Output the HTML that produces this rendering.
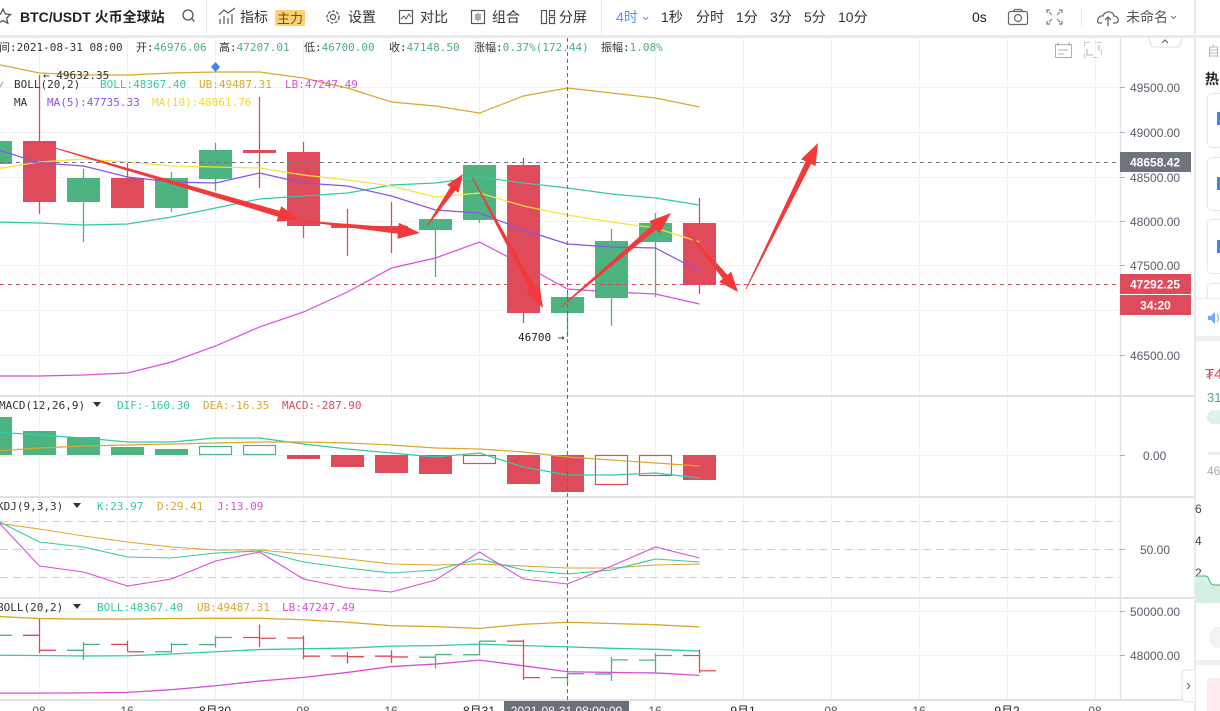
<!DOCTYPE html>
<html><head><meta charset="utf-8"><style>
html,body{margin:0;padding:0;background:#fff;width:1220px;height:711px;overflow:hidden}
svg{display:block}
.tb{font-family:"Liberation Sans","Noto Sans CJK SC",sans-serif;font-size:14px;fill:#333}
.mono{font-family:"DejaVu Sans Mono","Liberation Mono","Noto Sans CJK SC",monospace;font-size:11px}
.ax{font-family:"Liberation Sans",sans-serif;font-size:12px;fill:#555e6b}
</style></head><body>
<svg width="1220" height="711" viewBox="0 0 1220 711" xmlns="http://www.w3.org/2000/svg">
<defs>
<clipPath id="cm"><rect x="0" y="38" width="1120" height="357"/></clipPath>
<clipPath id="cmacd"><rect x="0" y="397" width="1120" height="99"/></clipPath>
<clipPath id="ckdj"><rect x="0" y="498" width="1120" height="99"/></clipPath>
<clipPath id="cboll"><rect x="0" y="599" width="1120" height="100"/></clipPath>
</defs>
<rect width="1220" height="711" fill="#fff"/>

<!-- ===== TOOLBAR ===== -->
<polygon points="3,9 5.3,14 10.5,14.5 6.6,18 7.8,23.2 3,20.5 -1.8,23.2 -0.6,18 -4.5,14.5 0.7,14" fill="none" stroke="#555" stroke-width="1.3"/>
<text x="20" y="22" class="tb" style="font-weight:bold;fill:#222">BTC/USDT 火币全球站</text>
<circle cx="188" cy="15" r="5" fill="none" stroke="#555" stroke-width="1.3"/>
<line x1="191.5" y1="18.5" x2="194.5" y2="21.5" stroke="#555" stroke-width="1.3"/>
<line x1="206.5" y1="0" x2="206.5" y2="36" stroke="#e8eaed"/>
<path d="M220 24V19M224 24V16M228 24V18M232 24V14M219 15L224 10L228 13L235 8" fill="none" stroke="#555" stroke-width="1.2"/>
<text x="240" y="22" class="tb">指标</text>
<rect x="275" y="10" width="30" height="16" fill="#fcd173" rx="1"/>
<text x="277" y="23" class="tb" style="font-size:13px;fill:#7a4d00">主力</text>
<circle cx="333" cy="17" r="6" fill="none" stroke="#555" stroke-width="1.3" stroke-dasharray="3 1.5"/>
<circle cx="333" cy="17" r="2.5" fill="none" stroke="#555" stroke-width="1.2"/>
<text x="348" y="22" class="tb">设置</text>
<rect x="399.5" y="10.5" width="13" height="13" fill="none" stroke="#555" stroke-width="1.2"/>
<path d="M401 19L404 16L406 19L409 14L411 17" fill="none" stroke="#555" stroke-width="1"/>
<text x="420" y="22" class="tb">对比</text>
<rect x="471.5" y="10.5" width="13" height="13" fill="none" stroke="#555" stroke-width="1.2"/>
<path d="M476 14V20M478 13V21M480 14V20" stroke="#555" stroke-width="1"/>
<text x="492" y="22" class="tb">组合</text>
<rect x="541.5" y="10.5" width="5" height="13" fill="none" stroke="#555" stroke-width="1.2"/>
<rect x="549.5" y="10.5" width="5" height="5" fill="none" stroke="#555" stroke-width="1.2"/>
<rect x="549.5" y="17.5" width="5" height="6" fill="none" stroke="#555" stroke-width="1.2"/>
<text x="559" y="22" class="tb">分屏</text>
<line x1="601.5" y1="0" x2="601.5" y2="36" stroke="#e8eaed"/>
<text x="616" y="22" class="tb" style="fill:#5b8ff9">4时</text>
<path d="M643 17L645.5 19.5L648 17" fill="none" stroke="#5b8ff9" stroke-width="1"/>
<text x="661" y="22" class="tb">1秒</text>
<text x="696" y="22" class="tb">分时</text>
<text x="736" y="22" class="tb">1分</text>
<text x="770" y="22" class="tb">3分</text>
<text x="804" y="22" class="tb">5分</text>
<text x="838" y="22" class="tb">10分</text>
<text x="972" y="22" class="tb" style="fill:#222">0s</text>
<rect x="1008.5" y="11.5" width="19" height="13" rx="2" fill="none" stroke="#666" stroke-width="1.2"/>
<path d="M1013 11.5L1015 9.5H1021L1023 11.5" fill="none" stroke="#666" stroke-width="1.2"/>
<circle cx="1018" cy="18" r="3.5" fill="none" stroke="#666" stroke-width="1.2"/>
<path d="M1047 13V10H1050M1059 10H1062V13M1062 21V24H1059M1050 24H1047V21" fill="none" stroke="#777" stroke-width="1.2"/>
<path d="M1049 12L1052 15M1060 12L1057 15M1060 22L1057 19M1049 22L1052 19" stroke="#777" stroke-width="1"/>
<line x1="1081.5" y1="7" x2="1081.5" y2="26" stroke="#e8eaed"/>
<path d="M1102 23H1099C1096 23 1098 15 1103 16C1104 11 1113 10 1114 16C1119 16 1120 23 1115 23H1113" fill="none" stroke="#666" stroke-width="1.3"/>
<path d="M1108 26V17M1105 20L1108 17L1111 20" fill="none" stroke="#666" stroke-width="1.3"/>
<text x="1126" y="22" class="tb" style="fill:#555">未命名</text>
<path d="M1171 16L1173.5 18.5L1176 16" fill="none" stroke="#777" stroke-width="1"/>
<rect x="0" y="35" width="1220" height="3" fill="#e8eaee"/>

<!-- right panel separator -->
<rect x="1194" y="0" width="2" height="711" fill="#e8eaed"/>

<!-- ===== GRID ===== -->
<g stroke="#eef2f5" stroke-width="1">
<path d="M39.5 38V699M127.5 38V699M215.5 38V699M303.5 38V699M391.5 38V699M479.5 38V699M655.5 38V699M743.5 38V699M831.5 38V699M919.5 38V699M1007.5 38V699M1095.5 38V699"/>
<path d="M0 87.5H1120M0 132.5H1120M0 177.5H1120M0 221.5H1120M0 265.5H1120M0 310.5H1120M0 355.5H1120"/>
<path d="M0 455.5H1120M0 611.5H1120M0 655.5H1120"/>
</g>
<g stroke="#cfcfcf" stroke-dasharray="8 5">
<path d="M0 521.5H1120M0 549.5H1120M0 577.5H1120"/>
</g>
<!-- separators -->
<g stroke="#dfe2e6" stroke-width="2">
<path d="M0 396H1194M0 497H1194M0 598H1194M0 700H1194"/>
</g>
<line x1="1120.5" y1="38" x2="1120.5" y2="700" stroke="#dfe2e6" stroke-width="1.5"/>

<!-- top-right chart icons -->
<rect x="1055.5" y="44.5" width="16" height="13" fill="none" stroke="#aab0b8"/>
<path d="M1058 42V46M1069 42V46M1058 50H1068M1058 54H1064" stroke="#aab0b8"/>
<rect x="1084.5" y="42.5" width="17" height="15" fill="none" stroke="#c8ccd2" stroke-dasharray="5 7"/>
<path d="M1087 49V55H1093M1099 45V51" fill="none" stroke="#aab0b8"/>
<path d="M1149 38L1151 45Q1152 47 1155 47H1176Q1179 47 1180 45L1182 38" fill="#fff" stroke="#d8dce2"/>
<path d="M1162 43L1165 40L1168 43" fill="none" stroke="#555" stroke-width="1"/>

<!-- ===== INFO LINE ===== -->
<g class="mono">
<text x="-1" y="51" fill="#333">间:2021-08-31 08:00</text>
<text x="136" y="51" fill="#333">开:<tspan fill="#4caf7d">46976.06</tspan></text>
<text x="219" y="51" fill="#333">高:<tspan fill="#4caf7d">47207.01</tspan></text>
<text x="304" y="51" fill="#333">低:<tspan fill="#4caf7d">46700.00</tspan></text>
<text x="389" y="51" fill="#333">收:<tspan fill="#4caf7d">47148.50</tspan></text>
<text x="474" y="51" fill="#333">涨幅:<tspan fill="#4caf7d">0.37%(172.44)</tspan></text>
<text x="601" y="51" fill="#333">振幅:<tspan fill="#4caf7d">1.08%</tspan></text>
</g>

<!-- ===== MAIN CHART ===== -->
<g clip-path="url(#cm)">
<g fill="none" stroke-width="1.2">
<polyline stroke="#d8a92d" points="-4.5,64 39.5,73 83.5,75 127.5,75 171.5,73 215.5,72 259.5,72 303.5,78 347.5,88 391.5,102 435.5,106 479.5,113 523.5,96 567.5,88 611.5,93 655.5,98 699.5,107"/>
<polyline stroke="#d84fd8" points="-4.5,376 39.5,376 83.5,375 127.5,373 171.5,362 215.5,346 259.5,327 303.5,312 347.5,292 391.5,268 435.5,258 479.5,242 523.5,265 567.5,289 611.5,292 655.5,294 699.5,304"/>
</g>
<!-- wicks -->
<g stroke-width="1.3">
<path stroke="#4db380" d="M-4.5 135V170M83.5 169V242M171.5 172V212M215.5 143V191M435.5 219V277M479.5 165V223M567.5 293V337M611.5 229V326M655.5 213V297"/>
<path stroke="#e04b5b" d="M39.5 75V214M127.5 163V208M259.5 97V188M303.5 142V238M347.5 209V256M391.5 202V253M523.5 158V323M699.5 198V294"/>
</g>
<g fill="#4db380">
<rect x="-21" y="141" width="33" height="23"/>
<rect x="67" y="178" width="33" height="24"/>
<rect x="155" y="178" width="33" height="30"/>
<rect x="199" y="150" width="33" height="29"/>
<rect x="419" y="219" width="33" height="11"/>
<rect x="463" y="165" width="33" height="55"/>
<rect x="551" y="297" width="33" height="16"/>
<rect x="595" y="241" width="33" height="57"/>
<rect x="639" y="223" width="33" height="19"/>
</g>
<g fill="#e04b5b">
<rect x="23" y="141" width="33" height="61"/>
<rect x="111" y="178" width="33" height="30"/>
<rect x="243" y="150" width="33" height="3"/>
<rect x="287" y="152" width="33" height="74"/>
<rect x="331" y="225" width="33" height="3"/>
<rect x="375" y="226" width="33" height="3"/>
<rect x="507" y="165" width="33" height="148"/>
<rect x="683" y="223" width="33" height="62"/>
</g>
<g fill="none" stroke-width="1.2">
<polyline stroke="#35c9a6" points="-4.5,222 39.5,223 83.5,225 127.5,224 171.5,217 215.5,208 259.5,199 303.5,196 347.5,193 391.5,185 435.5,183 479.5,177 523.5,183 567.5,188 611.5,194 655.5,198 699.5,205"/>
<polyline stroke="#f7e23c" points="-4.5,169 39.5,162 83.5,159 127.5,162 171.5,166 215.5,167 259.5,168 303.5,175 347.5,180 391.5,186 435.5,197 479.5,193 523.5,206 567.5,215 611.5,222 655.5,228 699.5,242"/>
<polyline stroke="#8c52e3" points="-4.5,149 39.5,163 83.5,166 127.5,177 171.5,182 215.5,183 259.5,173 303.5,183 347.5,186 391.5,196 435.5,210 479.5,213 523.5,230 567.5,244 611.5,247 655.5,248 699.5,271"/>
</g>
<!-- dashed price lines -->
<line x1="0" y1="162.5" x2="1120" y2="162.5" stroke="#6b7785" stroke-dasharray="4 4"/>
<line x1="0" y1="284.5" x2="1120" y2="284.5" stroke="#e04b5b" stroke-dasharray="4 4"/>
<!-- red annotation arrows -->
<g fill="#f23a3a">
<polygon points="54.9,148.5 278.0,216.7 276.6,221.5 300,220 281.2,206.1 279.8,210.9 55.1,147.5"/>
<polygon points="302.9,221.5 397.8,233.8 397.3,238.8 420,233 398.9,222.8 398.4,227.8 303.1,220.5"/>
<polygon points="427.4,226.3 455.3,190.5 458.5,192.8 463,174 447.0,184.8 450.3,187.1 426.6,225.7"/>
<polygon points="471.6,177.2 529.9,290.1 525.5,292.5 543,308 539.5,284.9 535.1,287.3 472.4,176.8"/>
<polygon points="561.3,307.4 656.2,229.6 659.5,233.4 671,213 649.1,221.2 652.4,225.0 560.7,306.6"/>
<polygon points="683.6,228.3 722.8,278.6 719.0,281.9 738,292 731.2,271.5 727.4,274.8 684.4,227.7"/>
<polygon points="746.4,289.2 811.0,164.0 815.5,166.2 818,143 801.1,159.2 805.6,161.4 745.6,288.8"/>
</g>
</g>
<!-- main legend & annotations -->
<line x1="0" y1="87" x2="3" y2="82" stroke="#999"/>
<g class="mono">
<text x="14" y="88" fill="#333">BOLL(20,2)</text>
<text x="100" y="88" fill="#35c9a6">BOLL:48367.40</text>
<text x="199" y="88" fill="#d8a92d">UB:49487.31</text>
<text x="285" y="88" fill="#d84fd8">LB:47247.49</text>
<text x="14" y="106" fill="#333">MA</text>
<text x="47" y="106" fill="#8c52e3">MA(5):47735.33</text>
<text x="152" y="106" fill="#f2d92a">MA(10):48061.76</text>
<text x="43" y="79" fill="#333">← 49632.35</text>
<text x="518" y="341" fill="#222">46700 →</text>
</g>
<polygon points="215.5,62 220,67 215.5,72 211,67" fill="#3d86f0"/>

<!-- ===== MACD ===== -->
<g clip-path="url(#cmacd)">
<g fill="#4db380">
<rect x="-21" y="417" width="33" height="38"/>
<rect x="23" y="431" width="33" height="24"/>
<rect x="67" y="437" width="33" height="18"/>
<rect x="111" y="447" width="33" height="8"/>
<rect x="155" y="449" width="33" height="6"/>
</g>
<g fill="none" stroke="#4db380" stroke-width="1.2">
<rect x="199.5" y="446.5" width="32" height="8"/>
<rect x="243.5" y="445.5" width="32" height="9"/>
</g>
<g fill="#e04b5b">
<rect x="287" y="455" width="33" height="4"/>
<rect x="331" y="455" width="33" height="12"/>
<rect x="375" y="455" width="33" height="18"/>
<rect x="419" y="455" width="33" height="19"/>
<rect x="507" y="455" width="33" height="29"/>
<rect x="551" y="455" width="33" height="37"/>
<rect x="683" y="455" width="33" height="25"/>
</g>
<g fill="none" stroke="#e04b5b" stroke-width="1.2">
<rect x="463.5" y="455.5" width="32" height="8"/>
<rect x="595.5" y="455.5" width="32" height="29"/>
<rect x="639.5" y="455.5" width="32" height="20"/>
</g>
<g fill="none" stroke-width="1.2">
<polyline stroke="#35c9a6" points="-4.5,432 39.5,435 83.5,438 127.5,442 171.5,442 215.5,438 259.5,438 303.5,444 347.5,449 391.5,453 435.5,457 479.5,453 523.5,467 567.5,475 611.5,475 655.5,473 699.5,478"/>
<polyline stroke="#d8a92d" points="-4.5,451 39.5,448 83.5,446 127.5,445 171.5,444 215.5,443 259.5,442 303.5,442 347.5,443 391.5,445 435.5,448 479.5,449 523.5,452 567.5,457 611.5,460 655.5,463 699.5,466"/>
</g>
</g>
<g class="mono">
<text x="-1" y="409" fill="#333">MACD(12,26,9)</text>
<text x="117" y="409" fill="#35c9a6">DIF:-160.30</text>
<text x="203" y="409" fill="#d8a92d">DEA:-16.35</text>
<text x="282" y="409" fill="#e04b5b">MACD:-287.90</text>
<text x="-3" y="510" fill="#333">KDJ(9,3,3)</text>
<text x="97" y="510" fill="#35c9a6">K:23.97</text>
<text x="157" y="510" fill="#d8a92d">D:29.41</text>
<text x="217" y="510" fill="#d84fd8">J:13.09</text>
<text x="-3" y="611" fill="#333">BOLL(20,2)</text>
<text x="97" y="611" fill="#35c9a6">BOLL:48367.40</text>
<text x="197" y="611" fill="#d8a92d">UB:49487.31</text>
<text x="282" y="611" fill="#d84fd8">LB:47247.49</text>
</g>
<path d="M93 402H101L97 407Z M73 503H81L77 508Z M73 604H81L77 609Z" fill="#333"/>

<!-- ===== KDJ ===== -->
<g clip-path="url(#ckdj)" fill="none" stroke-width="1.1">
<polyline stroke="#d8a92d" points="-4.5,523 39.5,529 83.5,536 127.5,542 171.5,547 215.5,550 259.5,550 303.5,554 347.5,559 391.5,564 435.5,565 479.5,564 523.5,566 567.5,568 611.5,568 655.5,565 699.5,564"/>
<polyline stroke="#35c9a6" points="-4.5,520 39.5,542 83.5,547 127.5,557 171.5,558 215.5,553 259.5,551 303.5,562 347.5,568 391.5,573 435.5,570 479.5,559 523.5,570 567.5,574 611.5,570 655.5,559 699.5,562"/>
<polyline stroke="#d84fd8" points="-4.5,519 39.5,566 83.5,572 127.5,586 171.5,579 215.5,561 259.5,552 303.5,579 347.5,588 391.5,592 435.5,580 479.5,552 523.5,579 567.5,584 611.5,566 655.5,547 699.5,558"/>
</g>

<!-- ===== BOLL (lower) ===== -->
<g clip-path="url(#cboll)">
<g transform="translate(0,600.59) scale(1,0.2461)" fill="none">
<polyline vector-effect="non-scaling-stroke" stroke-width="1.3" stroke="#d8a92d" points="-4.5,64 39.5,73 83.5,75 127.5,75 171.5,73 215.5,72 259.5,72 303.5,78 347.5,88 391.5,102 435.5,106 479.5,113 523.5,96 567.5,88 611.5,93 655.5,98 699.5,107"/>
<polyline vector-effect="non-scaling-stroke" stroke-width="1.3" stroke="#35c9a6" points="-4.5,222 39.5,223 83.5,225 127.5,224 171.5,217 215.5,208 259.5,199 303.5,196 347.5,193 391.5,185 435.5,183 479.5,177 523.5,183 567.5,188 611.5,194 655.5,198 699.5,205"/>
<polyline vector-effect="non-scaling-stroke" stroke-width="1.3" stroke="#d84fd8" points="-4.5,376 39.5,376 83.5,375 127.5,373 171.5,362 215.5,346 259.5,327 303.5,312 347.5,292 391.5,268 435.5,258 479.5,242 523.5,265 567.5,289 611.5,292 655.5,294 699.5,304"/>
<path vector-effect="non-scaling-stroke" stroke-width="1.3" stroke="#4db380" d="M-21 164H-4.5M-4.5 135V170M-4.5 141H12 M67 202H83.5M83.5 169V242M83.5 178H100 M155 208H171.5M171.5 172V212M171.5 178H188 M199 179H215.5M215.5 143V191M215.5 150H232 M419 230H435.5M435.5 219V277M435.5 219H452 M463 220H479.5M479.5 165V223M479.5 165H496 M551 313H567.5M567.5 293V337M567.5 297H584 M595 298H611.5M611.5 229V326M611.5 241H628 M639 242H655.5M655.5 213V297M655.5 223H672"/>
<path vector-effect="non-scaling-stroke" stroke-width="1.3" stroke="#e04b5b" d="M23 141H39.5M39.5 75V214M39.5 202H56 M111 178H127.5M127.5 163V208M127.5 208H144 M243 150H259.5M259.5 97V188M259.5 153H276 M287 152H303.5M303.5 142V238M303.5 226H320 M331 225H347.5M347.5 209V256M347.5 228H364 M375 226H391.5M391.5 202V253M391.5 229H408 M507 165H523.5M523.5 158V323M523.5 313H540 M683 223H699.5M699.5 198V294M699.5 285H716"/>
</g>
</g>

<!-- crosshair -->
<line x1="567.5" y1="38" x2="567.5" y2="700" stroke="#5f6f80" stroke-dasharray="4 3"/>

<!-- ===== AXIS LABELS ===== -->
<g stroke="#aab0b8">
<path d="M1120 87.5H1125M1120 132.5H1125M1120 177.5H1125M1120 221.5H1125M1120 265.5H1125M1120 355.5H1125M1120 455.5H1125M1120 549.5H1125M1120 611.5H1125M1120 655.5H1125"/>
</g>
<g class="ax">
<text x="1130" y="92">49500.00</text>
<text x="1130" y="137">49000.00</text>
<text x="1130" y="182">48500.00</text>
<text x="1130" y="226">48000.00</text>
<text x="1130" y="270">47500.00</text>
<text x="1130" y="360">46500.00</text>
<text x="1143" y="460">0.00</text>
<text x="1140" y="554">50.00</text>
<text x="1130" y="616">50000.00</text>
<text x="1130" y="660">48000.00</text>
</g>
<rect x="1120" y="152" width="71" height="20" fill="#6e737d"/>
<text x="1130" y="166.5" style="font-family:'Liberation Sans',sans-serif;font-size:12px;font-weight:bold" fill="#fff">48658.42</text>
<rect x="1120" y="274" width="71" height="20" fill="#e04b5b"/>
<text x="1130" y="288.5" style="font-family:'Liberation Sans',sans-serif;font-size:12px;font-weight:bold" fill="#fff">47292.25</text>
<rect x="1120" y="295" width="71" height="20" fill="#e04b5b"/>
<text x="1155.5" y="309.5" text-anchor="middle" style="font-family:'Liberation Sans',sans-serif;font-size:12px;font-weight:bold" fill="#fff">34:20</text>

<!-- x-axis labels -->
<g class="ax" text-anchor="middle" style="fill:#555">
<text x="39" y="715">08</text>
<text x="127" y="715">16</text>
<text x="215" y="715" style="fill:#222">8月30</text>
<text x="303" y="715">08</text>
<text x="391" y="715">16</text>
<text x="479" y="715" style="fill:#222">8月31</text>
<text x="655" y="715">16</text>
<text x="743" y="715" style="fill:#222">9月1</text>
<text x="831" y="715">08</text>
<text x="919" y="715">16</text>
<text x="1007" y="715" style="fill:#222">9月2</text>
<text x="1095" y="715">08</text>
</g>
<rect x="504" y="701" width="125" height="12" fill="#6b6f78"/>
<text x="566.5" y="715" text-anchor="middle" class="ax" style="fill:#fff">2021-08-31 08:00:00</text>

<!-- collapse tab -->
<path d="M1195 670H1187Q1182 670 1182 675V697Q1182 702 1187 702H1195" fill="#fff" stroke="#dfe2e6"/>
<path d="M1187 683L1190 686L1187 689" fill="none" stroke="#666"/>

<!-- ===== RIGHT PANEL (partial) ===== -->
<g>
<text x="1207" y="56" style="font-family:'Noto Sans CJK SC',sans-serif;font-size:13px" fill="#b0b4ba">自</text>
<text x="1205" y="84" style="font-family:'Noto Sans CJK SC',sans-serif;font-size:14px;font-weight:bold" fill="#222">热</text>
<g fill="none" stroke="#e6e8eb">
<rect x="1207.5" y="93.5" width="30" height="54" rx="4"/>
<rect x="1207.5" y="157.5" width="30" height="53" rx="4"/>
<rect x="1207.5" y="219.5" width="30" height="54" rx="4"/>
<rect x="1207.5" y="283.5" width="30" height="30" rx="4"/>
</g>
<rect x="1217" y="112" width="3" height="13" fill="#3d86f0"/>
<rect x="1217" y="177" width="3" height="13" fill="#3d86f0"/>
<rect x="1217" y="240" width="3" height="13" fill="#3d86f0"/>
<rect x="1196" y="298" width="24" height="40" fill="#fff"/>
<line x1="1196" y1="298.5" x2="1220" y2="298.5" stroke="#eceef1"/>
<path d="M1208 316H1211L1215 312V324L1211 320H1208Z" fill="#6fa8f5"/>
<path d="M1217 314Q1220 318 1217 322" fill="none" stroke="#6fa8f5"/>
<rect x="1196" y="336" width="24" height="5" fill="#eef0f4"/>
<text x="1205" y="379" style="font-family:'Liberation Sans',sans-serif;font-size:15px" fill="#e04b5b">₮4</text>
<text x="1207" y="402" style="font-family:'Liberation Sans',sans-serif;font-size:13px" fill="#4caf7d">31</text>
<rect x="1207" y="410" width="20" height="14" rx="7" fill="#dff2e8"/>
<line x1="1208" y1="453.5" x2="1220" y2="453.5" stroke="#e3e5e8" stroke-width="2"/>
<text x="1207" y="475" style="font-family:'Liberation Sans',sans-serif;font-size:12px" fill="#aaa">46</text>
<text x="1195" y="513" style="font-family:'Liberation Sans',sans-serif;font-size:12px" fill="#444">6</text>
<text x="1195" y="545" style="font-family:'Liberation Sans',sans-serif;font-size:12px" fill="#444">4</text>
<text x="1195" y="577" style="font-family:'Liberation Sans',sans-serif;font-size:12px" fill="#444">2</text>
<path d="M1196 576H1206Q1208 576 1209 580Q1211 585 1214 585H1220V603H1196Z" fill="#d5efe1"/>
<path d="M1196 576H1206Q1208 576 1209 580Q1211 585 1214 585H1220" fill="none" stroke="#4caf7d"/>
<rect x="1209" y="627" width="20" height="21" rx="10" fill="#f1f2f4"/>
<rect x="1196" y="660" width="24" height="5" fill="#eef0f4"/>
<rect x="1207" y="678" width="20" height="40" rx="3" fill="#fdeced"/>
</g>
</svg>
</body></html>
